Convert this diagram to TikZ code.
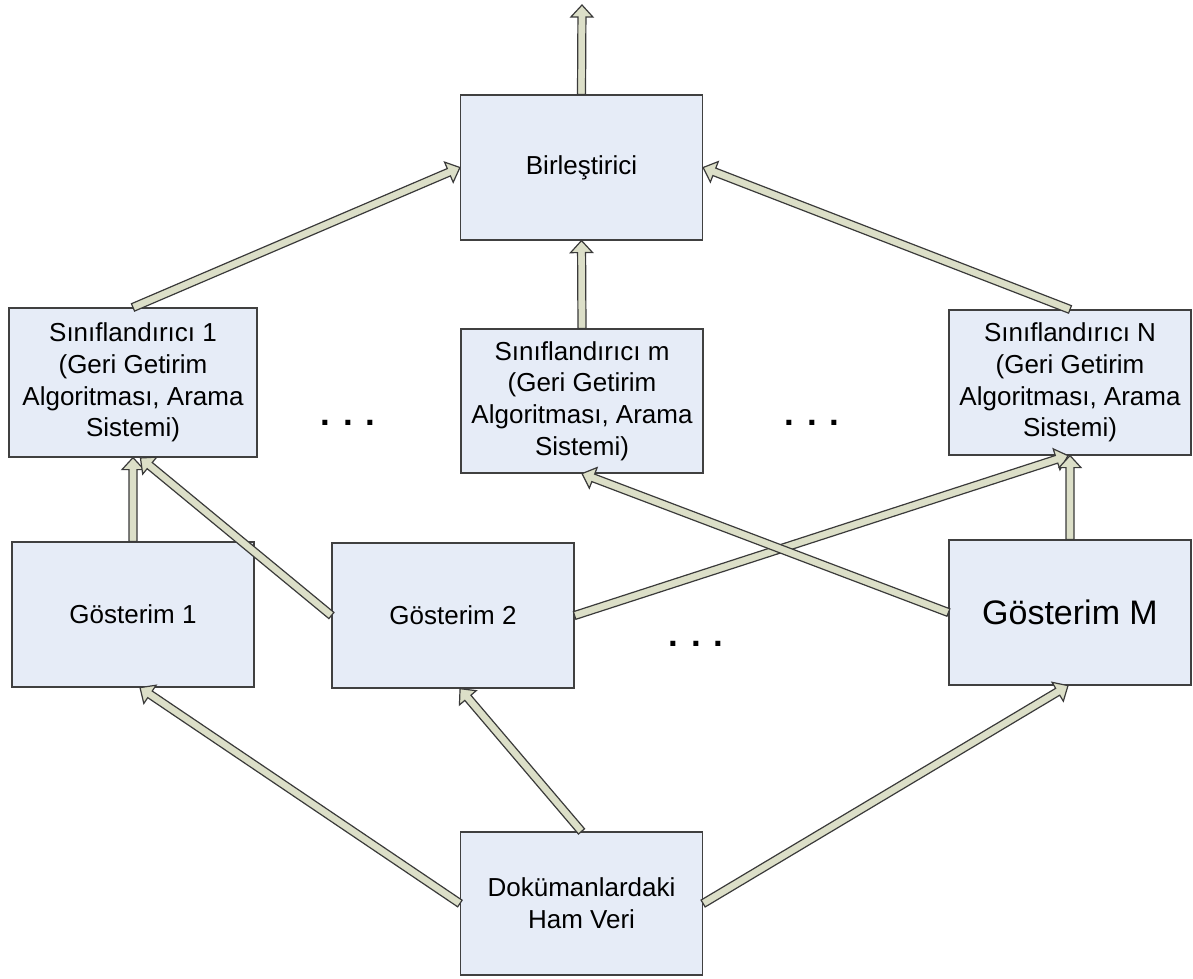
\documentclass[tikz,border=0pt]{standalone}
\usepackage{fontspec}
\setmainfont{Liberation Sans}
\usetikzlibrary{calc}
\definecolor{boxfill}{HTML}{E6ECF7}
\definecolor{boxline}{HTML}{404040}
\definecolor{arrfill}{HTML}{DCDFC8}
\definecolor{arrline}{HTML}{3A3A3A}
\tikzset{
  box/.style={draw=boxline, fill=boxfill, line width=0.6pt, inner sep=0pt,
    minimum width=121pt, minimum height=72.5pt, align=center,
    font=\fontsize{13pt}{15.85pt}\selectfont},
  bigbox/.style={box, font=\fontsize{17pt}{20pt}\selectfont},
  dots/.style={anchor=base, inner sep=0pt, font=\fontsize{17.5pt}{20pt}\selectfont\bfseries},
  fatarrow/.style={draw=arrline, fill=arrfill, line width=0.6pt, line join=miter}
}
\newcommand\fatarr[2]{%
  \path let \p1=($(#2)-(#1)$), \n1={atan2(\y1,\x1)}, \n2={veclen(\x1,\y1)} in
    [shift={(#1)}, rotate=\n1]
    [fatarrow] (0pt,-2pt) -- ({\n2*1pt-6pt},-2pt) -- ({\n2*1pt-6pt},-5.5pt)
      -- ({\n2*1pt},0pt) -- ({\n2*1pt-6pt},5.5pt) -- ({\n2*1pt-6pt},2pt) -- (0pt,2pt) -- cycle;%
}
\begin{document}
\begin{tikzpicture}[x=0.5pt, y=-0.5pt]
\useasboundingbox (0,0) rectangle (1193,979);
% boxes
\node[box] (bir) at (581.5,167.5) {Birleştirici};
\node[box, minimum height=74.5pt, minimum width=124pt] (s1) at (133,382.5) {Sınıflandırıcı 1\\(Geri Getirim\\Algoritması, Arama\\Sistemi)};
\node[box, minimum height=72pt] (sm) at (582,401) {Sınıflandırıcı m\\(Geri Getirim\\Algoritması, Arama\\Sistemi)};
\node[box] (sN) at (1070,382.5) {Sınıflandırıcı N\\(Geri Getirim\\Algoritması, Arama\\Sistemi)};
\node[box] (g1) at (133,614.5) {Gösterim 1};
\node[box] (g2) at (453,615.5) {Gösterim 2};
\node[bigbox] (gM) at (1070,612.5) {Gösterim M};
\node[box, minimum height=71.5pt] (doc) at (581.5,903.5) {Dokümanlardaki\\Ham Veri};
% dots
\node[dots] (d1) at (348,425) {. . .};
\node[dots] (d2) at (812,425) {. . .};
\node[dots] (d3) at (696,646) {. . .};
% helper coordinates
\coordinate (out) at (582,5);
\coordinate (s1in) at ([xshift=3.5pt]s1.south);
\coordinate (g1in) at ([xshift=3.5pt]g1.south);
\coordinate (g2in) at ([xshift=3.5pt]g2.south);
\coordinate (gMin) at ([xshift=-1pt]gM.south);
\coordinate (sNin) at ([xshift=-1pt]sN.south);
% arrows
\fatarr{bir.north}{out}
\fatarr{s1.north}{bir.west}
\fatarr{sm.north}{bir.south}
\fatarr{sN.north}{bir.east}
\fatarr{g1.north}{s1.south}
\fatarr{g2.west}{s1in}
\fatarr{g2.east}{sNin}
\fatarr{gM.west}{sm.south}
\fatarr{gM.north}{sN.south}
\fatarr{doc.west}{g1in}
\fatarr{doc.north}{g2in}
\fatarr{doc.east}{gMin}
\end{tikzpicture}
\end{document}
